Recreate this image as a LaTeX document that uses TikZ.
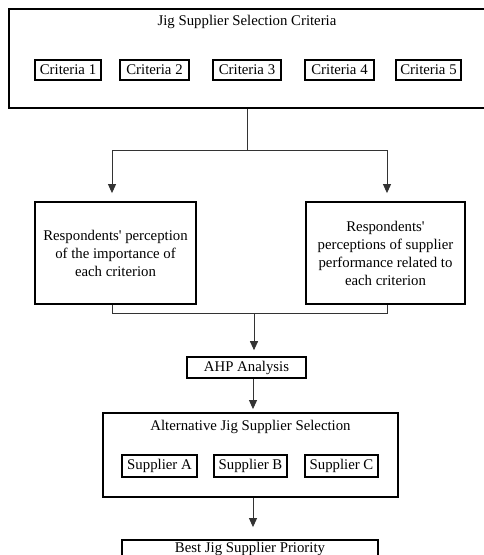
\documentclass[tikz,border=0pt]{standalone}
\usepackage{fontspec}
\setmainfont{Liberation Serif}
\usetikzlibrary{arrows.meta}
\begin{document}
\begin{tikzpicture}[x=1pt,y=-1pt,
  every node/.style={font=\fontsize{14.8}{18}\selectfont, inner sep=0pt},
  bigbox/.style={draw, line width=1.8pt, rectangle},
  smallbox/.style={draw, line width=1.6pt, rectangle, align=center},
  conn/.style={line width=0.9pt, draw=black!80},
  arr/.style={conn, -{Triangle[width=8pt,length=9pt]}}]
\useasboundingbox (0,0) rectangle (484,555);
% top box
\node[bigbox, minimum width=490pt, minimum height=99pt] (top) at (254,58.5) {};
\node (toptitle) at (247,22) {Jig Supplier Selection Criteria};
\node[smallbox, minimum width=66pt, minimum height=20pt] (c1) at (68,70) {Criteria 1};
\node[smallbox, minimum width=69pt, minimum height=20pt] (c2) at (154.5,70) {Criteria 2};
\node[smallbox, minimum width=68pt, minimum height=20pt] (c3) at (247,70) {Criteria 3};
\node[smallbox, minimum width=69pt, minimum height=20pt] (c4) at (339.5,70) {Criteria 4};
\node[smallbox, minimum width=65pt, minimum height=20pt] (c5) at (428.5,70) {Criteria 5};
% perception boxes
\node[bigbox, minimum width=161pt, minimum height=102pt, align=flush center, text width=158pt] (left) at (115.5,253)
  {Respondents\textquotesingle{} perception\\of the importance of\\each criterion};
\node[bigbox, minimum width=159pt, minimum height=102pt, align=flush center, text width=156pt] (right) at (385.5,253)
  {Respondents\textquotesingle\\perceptions of supplier\\performance related to\\each criterion};
% AHP
\node[smallbox, minimum width=119pt, minimum height=21pt] (ahp) at (246.5,367.5) {AHP Analysis};
% alternative box
\node[bigbox, minimum width=295pt, minimum height=84pt] (alt) at (250.5,455) {};
\node (alttitle) at (250.5,427) {Alternative Jig Supplier Selection};
\node[smallbox, minimum width=75pt, minimum height=22pt] (sa) at (159.5,466) {Supplier A};
\node[smallbox, minimum width=73pt, minimum height=22pt] (sb) at (250.5,466) {Supplier B};
\node[smallbox, minimum width=73pt, minimum height=22pt] (sc) at (341.5,466) {Supplier C};
% best box
\node[bigbox, minimum width=256pt, minimum height=40pt] (best) at (250,560) {};
\node (besttitle) at (250,549) {Best Jig Supplier Priority};
% connectors
\coordinate (s1) at (247,150);
\coordinate (jL) at (112,150);
\coordinate (jR) at (387,150);
\draw[conn] (top.south -| s1) -- (s1);
\draw[conn] (jL) -- (jR);
\draw[arr, shorten >=8pt] (jL) -- (left.north -| jL);
\draw[arr, shorten >=8pt] (jR) -- (right.north -| jR);
\coordinate (bL) at (112,313);
\coordinate (bR) at (387,313);
\coordinate (m) at (254,313);
\draw[conn] (left.south -| bL) -- (bL) -- (bR) -- (right.south -| bR);
\draw[arr, shorten >=6pt] (m) -- (ahp.north -| m);
\coordinate (m2) at (253,378);
\draw[arr, shorten >=3pt] (ahp.south -| m2) -- (alt.north -| m2);
\coordinate (m3) at (253,497);
\draw[arr, shorten >=12pt] (alt.south -| m3) -- (best.north -| m3);
\end{tikzpicture}
\end{document}
